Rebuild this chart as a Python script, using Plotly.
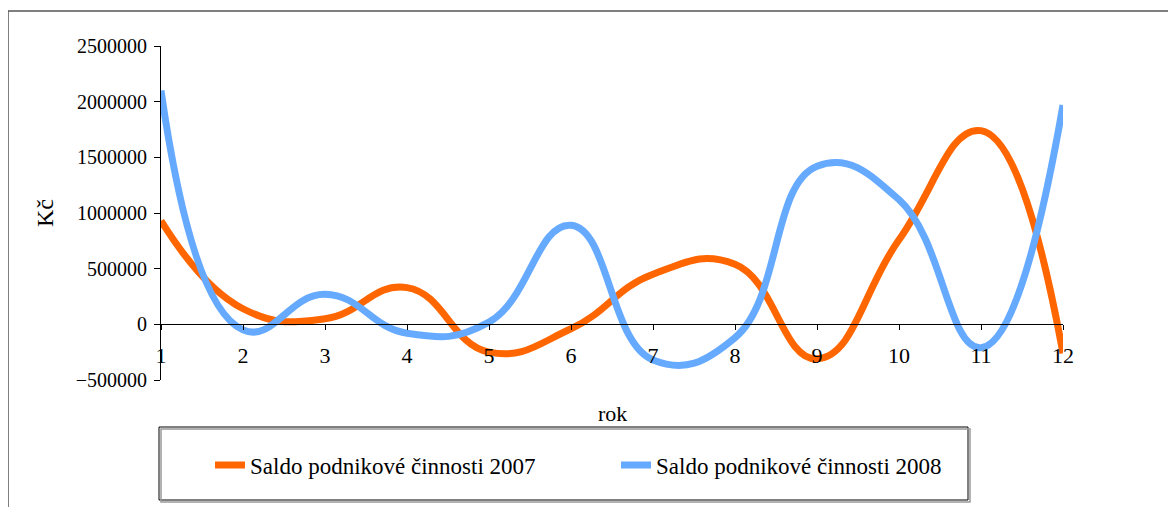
import plotly.graph_objects as go

# data
roky = [1, 2, 3, 4, 5, 6, 7, 8, 9, 10, 11, 12]
saldo_2007 = [930000, 140000, 50000, 330000, -250000, -40000,
              450000, 540000, -310000, 760000, 1740000, -260000]
saldo_2008 = [2100000, -50000, 270000, -80000, 20000, 890000,
              -320000, -120000, 1420000, 1120000, -210000, 1970000]
y_ticks = [-500000, 0, 500000, 1000000, 1500000, 2000000, 2500000]

FONT = "Times New Roman, Liberation Serif, Tinos, DejaVu Serif, serif"
OFF = 8  # body margin of the html page
W, H = 1176 - 2 * OFF, 515 - 2 * OFF
L, T = 161 - OFF, 46 - OFF
R, B = W - (1063 - OFF), H - (380 - OFF)
pw, ph = W - L - R, H - T - B


# page pixel -> paper coordinates
def px(x):
    return (x - OFF - L) / pw


def py(y):
    return (H - B - (y - OFF)) / ph


fig = go.Figure()

fig.add_trace(go.Scatter(
    x=roky, y=saldo_2007, mode="lines", name="Saldo podnikové činnosti 2007",
    line=dict(color="#FF6600", width=7, shape="spline", smoothing=1.3),
))
fig.add_trace(go.Scatter(
    x=roky, y=saldo_2008, mode="lines", name="Saldo podnikové činnosti 2008",
    line=dict(color="#66AAFF", width=7, shape="spline", smoothing=1.3),
))

# x axis crosses at y = 0
zero_pos = (0 - y_ticks[0]) / (y_ticks[-1] - y_ticks[0])

fig.update_layout(
    width=W, height=H,
    margin=dict(l=L, r=R, t=T, b=B),
    plot_bgcolor="white", paper_bgcolor="white",
    font=dict(family=FONT, size=21, color="black"),
    showlegend=True,
    legend=dict(orientation="h", x=px(210), y=py(465), xanchor="left", yanchor="middle",
                font=dict(family=FONT, size=23), entrywidth=361,
                bgcolor="rgba(0,0,0,0)"),
    xaxis=dict(range=[1, 12], tickvals=roky, showgrid=False, zeroline=False,
               showline=True, linecolor="black", linewidth=1,
               ticks="outside", ticklen=5, tickcolor="black",
               tickfont=dict(family=FONT, size=22),
               anchor="free", position=zero_pos, ticklabelstandoff=6),
    yaxis=dict(range=[y_ticks[0], y_ticks[-1]], tickvals=y_ticks, tickformat="d",
               tickfont=dict(family=FONT, size=20),
               showgrid=False, zeroline=False, showline=True, linecolor="black",
               linewidth=1, ticks="outside", ticklen=6, tickcolor="black",
               ticklabelstandoff=3),
    shapes=[
        # outer frame (only left and top edges visible)
        dict(type="rect", xref="paper", yref="paper", x0=px(8), x1=px(1300),
             y0=py(600), y1=py(11), line=dict(color="#555555", width=1.5)),
        # legend box with a light shadow
        dict(type="rect", xref="paper", yref="paper", x0=px(161), x1=px(970),
             y0=py(502), y1=py(429), line=dict(color="#999999", width=1.5)),
        dict(type="rect", xref="paper", yref="paper", x0=px(159), x1=px(968),
             y0=py(500), y1=py(427), line=dict(color="black", width=1),
             fillcolor="white", layer="below"),
    ],
    annotations=[
        dict(text="rok", x=0.5, y=py(413), xref="paper", yref="paper",
             showarrow=False, font=dict(family=FONT, size=22), yanchor="middle"),
        dict(text="Kč", x=px(45), y=0.5, xref="paper", yref="paper",
             showarrow=False, font=dict(family=FONT, size=24), textangle=-90,
             xanchor="center", yanchor="middle"),
    ],
)

fig.write_html("out.html")
